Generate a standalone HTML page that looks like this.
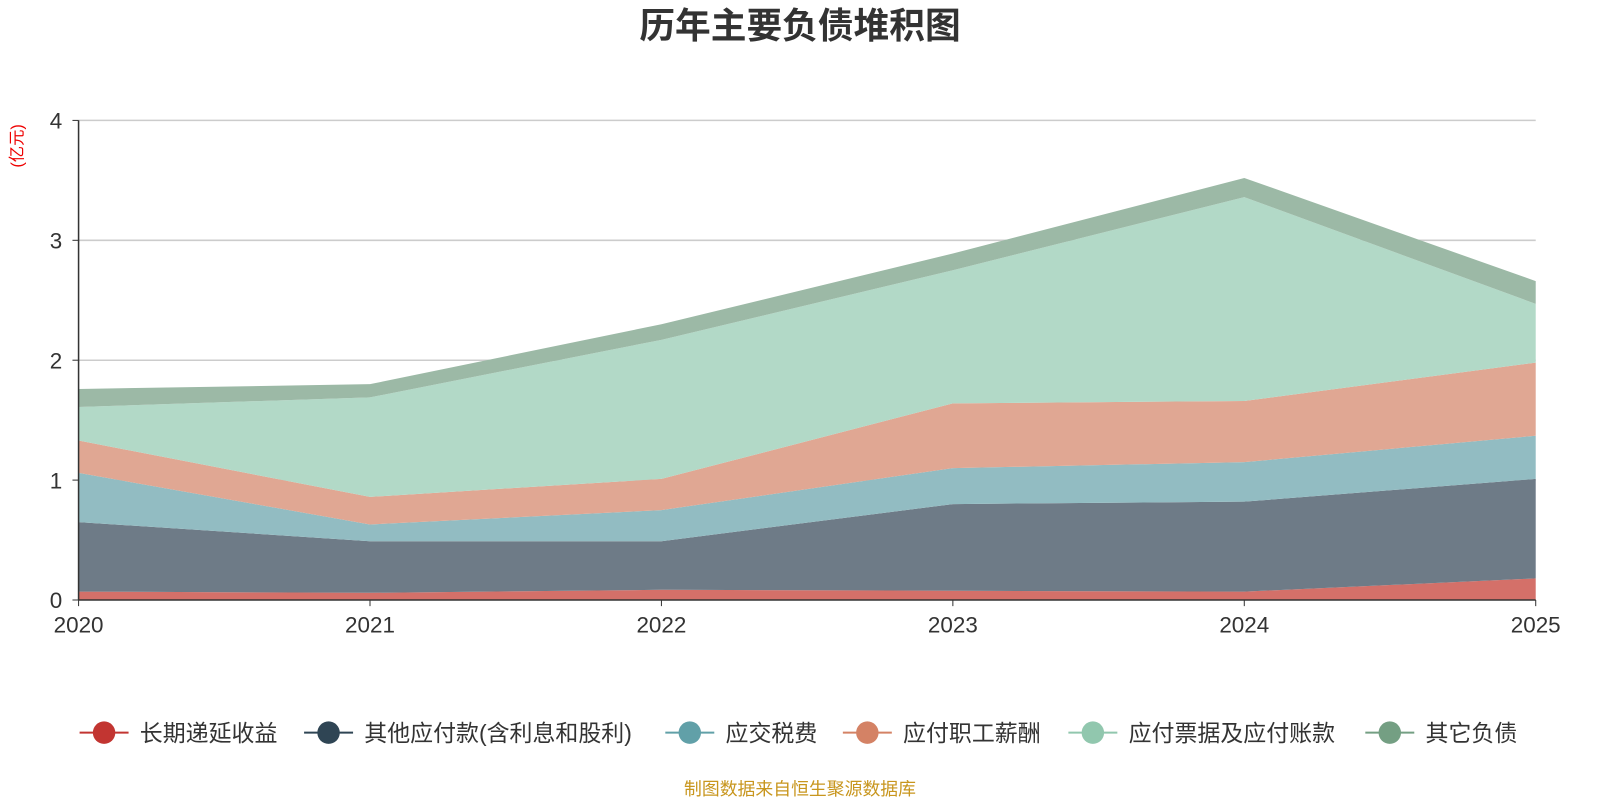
<!DOCTYPE html>
<html><head><meta charset="utf-8"><style>
html,body{margin:0;padding:0;background:#fff;width:1600px;height:800px;overflow:hidden}
svg text{font-family:"Liberation Sans","Noto Sans CJK SC",sans-serif}
</style></head><body>
<svg id="chart" width="1600" height="800" viewBox="0 0 1568 784" xmlns="http://www.w3.org/2000/svg">
<text x="784" y="37" text-anchor="middle" font-size="35" font-weight="bold" fill="#333">历年主要负债堆积图</text>
<text transform="translate(22,143) rotate(-90)" text-anchor="middle" font-size="16" fill="#e00">(亿元)</text>
<g id="grid"></g><g id="areas"></g><g id="axes"></g><g id="legend"></g>
<text x="784" y="779" text-anchor="middle" font-size="17.5" fill="#c8961e">制图数据来自恒生聚源数据库</text>
</svg>
<script>
const years=["2020","2021","2022","2023","2024","2025"];
const seriesNames=["长期递延收益","其他应付款(含利息和股利)","应交税费","应付职工薪酬","应付票据及应付账款","其它负债"];
const s0=[0.07,0.06,0.085,0.077,0.07,0.18];
const s1=[0.58,0.43,0.405,0.723,0.75,0.83];
const s2=[0.41,0.14,0.26,0.30,0.33,0.36];
const s3=[0.27,0.23,0.26,0.54,0.51,0.61];
const s4=[0.28,0.83,1.16,1.11,1.70,0.49];
const s5=[0.15,0.11,0.13,0.14,0.16,0.19];
const yTicks=[0,1,2,3,4];
const series=[s0,s1,s2,s3,s4,s5];
const fills=["#d47069","#6e7b87","#92bcc2","#e0a793","#b2d9c7","#9cb9a6"];
const icons=["#c23531","#2f4554","#61a0a8","#d48265","#91c7ae","#749f83"];
const NS="http://www.w3.org/2000/svg";
const x0=77,x1=1505,y0=588,yTop=118;
const X=i=>x0+(x1-x0)*i/(years.length-1);
const Y=v=>y0-(y0-yTop)*v/4;
function mk(t,a,p){const e=document.createElementNS(NS,t);for(const k in a)e.setAttribute(k,a[k]);p.appendChild(e);return e;}
const grid=document.getElementById('grid'),areas=document.getElementById('areas'),axes=document.getElementById('axes'),legend=document.getElementById('legend');
yTicks.forEach(t=>{
 if(t>0){const l=mk('line',{x1:x0,x2:x1,y1:Y(t),y2:Y(t),stroke:'#ccc','stroke-width':1.5},grid);
 
 }
 const tx=mk('text',{x:x0-16,y:Y(t)+8,'text-anchor':'end','font-size':22,fill:'#333'},axes);tx.textContent=t;
 
 
 mk('line',{x1:x0-6,x2:x0,y1:Y(t),y2:Y(t),stroke:'#333'},axes);
});
let base=years.map(()=>0);
series.forEach((s,k)=>{
 const top=base.map((b,i)=>b+s[i]);
 let d='M'+years.map((_,i)=>X(i)+','+Y(top[i])).join(' L');
 for(let i=years.length-1;i>=0;i--)d+=' L'+X(i)+','+Y(base[i]);
 const p=mk('path',{d:d+'Z',fill:fills[k]},areas);
 
 
 base=top;
});
mk('line',{x1:x0,x2:x0,y1:yTop,y2:y0,stroke:'#333','stroke-width':1.5},axes);
mk('line',{x1:x0,x2:x1,y1:y0,y2:y0,stroke:'#333','stroke-width':1.5},axes);
years.forEach((y,i)=>{
 mk('line',{x1:X(i),x2:X(i),y1:y0,y2:y0+6,stroke:'#333'},axes);
 const t=mk('text',{x:X(i),y:y0+32,'text-anchor':'middle','font-size':22,fill:'#333'},axes);t.textContent=y;
 
 
});
const iconX=[102,322,676,850,1071,1362];
seriesNames.forEach((n,k)=>{
 const g=mk('g',{},legend);
 
 
 mk('line',{x1:iconX[k]-24,x2:iconX[k]+24,y1:718,y2:718,stroke:icons[k],'stroke-width':2},g);
 mk('circle',{cx:iconX[k],cy:718,r:11,fill:icons[k]},g);
 const t=mk('text',{x:iconX[k]+35,y:726,'font-size':22.5,fill:'#333'},g);t.textContent=n;
});
</script>
</body></html>
